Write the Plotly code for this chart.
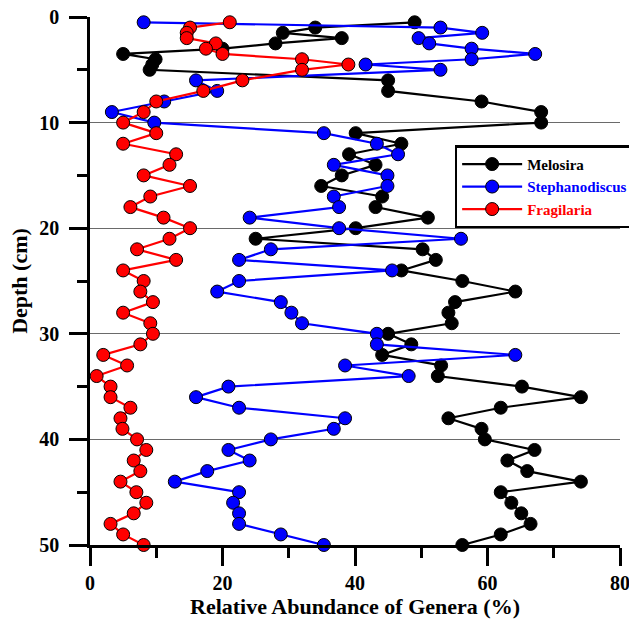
import plotly.graph_objects as go

depth = [0.5, 1, 1.5, 2, 2.5, 3, 3.5, 4, 4.5, 5] + list(range(6, 51))

melosira = [49.0, 34.0, 29.1, 38.0, 28.0, 20.0, 5.0, 9.9, 9.4, 9.0,
            45.0, 45.0, 59.1, 68.1, 68.1,
            40.1, 47.0, 39.1, 43.1, 38.0, 34.9, 44.1, 43.1, 51.0, 40.1,
            25.0, 50.2, 52.2, 47.0, 56.2, 64.2, 55.1, 54.1, 54.6, 45.0,
            48.5, 44.1, 53.0, 52.5, 65.2, 74.1, 62.0, 54.1, 59.1, 59.6,
            67.1, 63.0, 66.0, 74.1, 62.0, 63.6, 65.1, 66.5, 62.0, 56.2]

stephanodiscus = [8.1, 52.9, 59.2, 49.6, 51.2, 57.6, 67.2, 57.6, 41.6, 52.9,
                  16.0, 19.2, 11.2, 3.3, 9.7,
                  35.3, 43.3, 46.5, 36.8, 44.9, 44.9, 36.8, 37.6, 24.1, 37.6,
                  56.0, 27.3, 22.5, 45.6, 22.5, 19.2, 28.8, 30.4, 32.0, 43.3,
                  43.3, 64.2, 38.5, 48.1, 20.9, 16.0, 22.5, 38.5, 36.8, 27.3,
                  20.9, 24.1, 17.7, 12.8, 22.5, 21.6, 22.5, 22.5, 28.8, 35.3]

fragilaria = [21.1, 15.1, 14.6, 14.6, 19.0, 17.5, 20.0, 32.0, 39.0, 32.0,
              23.0, 17.1, 10.0, 8.1, 5.0,
              10.0, 5.0, 13.0, 12.0, 8.1, 15.1, 9.1, 6.1, 11.1, 15.1,
              12.0, 7.1, 13.0, 5.0, 8.1, 7.6, 9.5, 5.0, 9.1, 9.5,
              7.6, 2.0, 5.6, 1.0, 3.1, 3.1, 6.1, 4.6, 4.9, 7.1,
              8.5, 6.6, 7.6, 4.6, 7.0, 8.5, 6.6, 3.1, 5.0, 8.1]

series_names = ["Melosira", "Stephanodiscus", "Fragilaria"]
series_colors = ["#000000", "#0000ff", "#ff0000"]
series_values = [melosira, stephanodiscus, fragilaria]

x_tickvals = [0, 20, 40, 60, 80]
x_ticktext = ["0", "20", "40", "60", "80"]
y_tickvals = [0, 10, 20, 30, 40, 50]
y_ticktext = ["0", "10", "20", "30", "40", "50"]

FONT = "Liberation Serif, Times New Roman, serif"

fig = go.Figure()
for name, color, vals in zip(series_names, series_colors, series_values):
    fig.add_trace(go.Scatter(
        x=vals, y=depth, mode="lines+markers",
        name=f"<b><span style='color:{color}'>{name}</span></b>",
        line=dict(color=color, width=2.2),
        marker=dict(color=color, size=13, line=dict(color="black", width=1)),
        cliponaxis=False,
    ))

fig.update_layout(
    width=629, height=621,
    margin=dict(l=90, r=9, t=17, b=76, autoexpand=False),
    paper_bgcolor="white", plot_bgcolor="white",
    font=dict(family=FONT, color="black"),
    showlegend=True,
    legend=dict(
        x=0.688, y=0.757, xanchor="left", yanchor="top",
        bgcolor="white", bordercolor="black", borderwidth=2.5,
        font=dict(family=FONT, size=15, color="black"),
        itemwidth=60, tracegroupgap=0,
    ),
    xaxis=dict(
        range=[0, 80], tickvals=x_tickvals, ticktext=x_ticktext,
        ticks="outside", ticklen=18, tickwidth=2.5, tickcolor="black",
        minor=dict(dtick=10, ticks="outside", ticklen=10, tickwidth=2.5, tickcolor="black", showgrid=False),
        showline=True, linecolor="black", linewidth=2.5,
        showgrid=False, zeroline=False, automargin=False,
        ticklabeloverflow="allow",
        tickfont=dict(family=FONT, size=20, color="black", weight="bold"),
        title=dict(text="<b>Relative Abundance of Genera (%)</b>", font=dict(family=FONT, size=22, color="black"), standoff=4),
    ),
    yaxis=dict(
        range=[50, 0], tickvals=y_tickvals, ticktext=y_ticktext,
        ticks="outside", ticklen=18, tickwidth=2.5, tickcolor="black",
        minor=dict(dtick=5, ticks="outside", ticklen=10, tickwidth=2.5, tickcolor="black", showgrid=False),
        showline=True, linecolor="black", linewidth=2.5,
        showgrid=True, gridcolor="#6a6a6a", gridwidth=1, zeroline=False, automargin=False,
        ticklabelstandoff=6, ticklabeloverflow="allow",
        tickfont=dict(family=FONT, size=20, color="black", weight="bold"),
        title=dict(text="<b>Depth (cm)</b>", font=dict(family=FONT, size=22, color="black"), standoff=6),
    ),
)

fig.write_html(
    "out.html",
    config={"displayModeBar": False},
    post_script="document.body.style.margin='0';document.body.style.overflow='hidden';",
)
